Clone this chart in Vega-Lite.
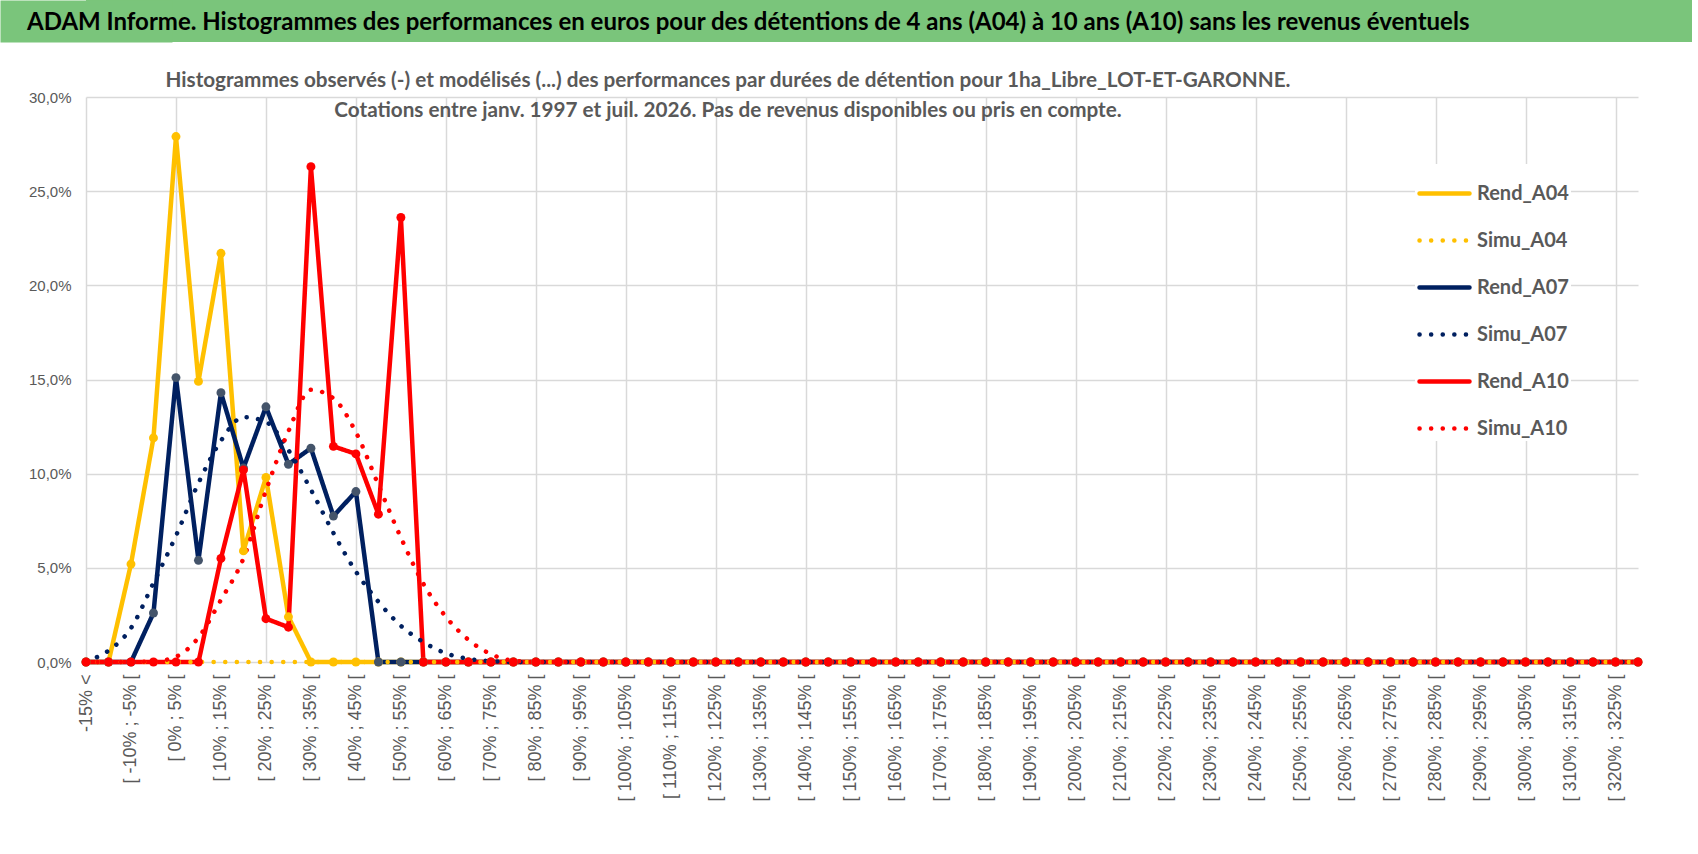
{
  "$schema": "https://vega.github.io/schema/vega-lite/v6.json",
  "padding": 0,
  "spacing": 28,
  "background": "white",
  "config": {"view": {"stroke": null}, "font": "Liberation Sans"},
  "vconcat": [
    {
      "width": 1606,
      "height": 42,
      "view": {"fill": "#7AC57B", "stroke": null},
      "data": {"values": [{"t": "ADAM Informe. Histogrammes des performances en euros pour des détentions de 4 ans (A04) à 10 ans (A10) sans les revenus éventuels"}]},
      "mark": {"type": "text", "align": "left", "baseline": "middle", "dx": -59, "dy": 2, "font": "Lato", "fontSize": 24, "fontWeight": "bold", "color": "#000000"},
      "encoding": {
        "x": {"datum": 0, "type": "quantitative", "scale": {"domain": [0, 1]}, "axis": null},
        "y": {
          "datum": 0.5, "type": "quantitative", "scale": {"domain": [0, 1]},
          "axis": {"title": null, "labels": false, "ticks": false, "grid": false, "domain": true, "domainColor": "#7AC57B", "domainWidth": 172}
        },
        "text": {"field": "t"}
      }
    },
    {
      "width": 1552,
      "height": 565,
      "title": {
        "text": ["Histogrammes observés (-) et modélisés (...) des performances par durées de détention pour 1ha_Libre_LOT-ET-GARONNE.", "Cotations entre janv. 1997 et juil. 2026. Pas de revenus disponibles ou pris en compte."],
        "anchor": "middle", "frame": "group", "dx": -134, "offset": -32,
        "font": "Lato", "fontSize": 20.7, "fontWeight": "bold", "color": "#595959", "lineHeight": 30
      },
      "data": {"values": [
        {"c": "-15% <", "Rend_A04": 0, "Rend_A07": 0, "Rend_A10": 0, "Simu_A04": 0, "Simu_A07": 0.05, "Simu_A10": 0},
        {"c": "[ -15% ; -10% [", "Rend_A04": 0, "Rend_A07": 0, "Rend_A10": 0, "Simu_A04": 0, "Simu_A07": 0.6, "Simu_A10": 0},
        {"c": "[ -10% ; -5% [", "Rend_A04": 5.2, "Rend_A07": 0, "Rend_A10": 0, "Simu_A04": 0, "Simu_A07": 1.8, "Simu_A10": 0},
        {"c": "[ -5% ; 0% [", "Rend_A04": 11.9, "Rend_A07": 2.6, "Rend_A10": 0, "Simu_A04": 0, "Simu_A07": 4.2, "Simu_A10": 0.03},
        {"c": "[ 0% ; 5% [", "Rend_A04": 27.9, "Rend_A07": 15.1, "Rend_A10": 0, "Simu_A04": 0, "Simu_A07": 6.7, "Simu_A10": 0.28},
        {"c": "[ 5% ; 10% [", "Rend_A04": 14.9, "Rend_A07": 5.4, "Rend_A10": 0, "Simu_A04": 0, "Simu_A07": 9.5, "Simu_A10": 1.3},
        {"c": "[ 10% ; 15% [", "Rend_A04": 21.7, "Rend_A07": 14.3, "Rend_A10": 5.5, "Simu_A04": 0, "Simu_A07": 11.75, "Simu_A10": 3.3},
        {"c": "[ 15% ; 20% [", "Rend_A04": 5.9, "Rend_A07": 10.3, "Rend_A10": 10.2, "Simu_A04": 0, "Simu_A07": 13.0, "Simu_A10": 5.5},
        {"c": "[ 20% ; 25% [", "Rend_A04": 9.8, "Rend_A07": 13.55, "Rend_A10": 2.3, "Simu_A04": 0, "Simu_A07": 12.75, "Simu_A10": 9.1},
        {"c": "[ 25% ; 30% [", "Rend_A04": 2.4, "Rend_A07": 10.5, "Rend_A10": 1.85, "Simu_A04": 0, "Simu_A07": 11.25, "Simu_A10": 12.25},
        {"c": "[ 30% ; 35% [", "Rend_A04": 0, "Rend_A07": 11.35, "Rend_A10": 26.3, "Simu_A04": 0, "Simu_A07": 9.15, "Simu_A10": 14.45},
        {"c": "[ 35% ; 40% [", "Rend_A04": 0, "Rend_A07": 7.75, "Rend_A10": 11.45, "Simu_A04": 0, "Simu_A07": 6.85, "Simu_A10": 14.0},
        {"c": "[ 40% ; 45% [", "Rend_A04": 0, "Rend_A07": 9.05, "Rend_A10": 11.05, "Simu_A04": 0, "Simu_A07": 4.8, "Simu_A10": 12.2},
        {"c": "[ 45% ; 50% [", "Rend_A04": 0, "Rend_A07": 0, "Rend_A10": 7.85, "Simu_A04": 0, "Simu_A07": 3.2, "Simu_A10": 9.4},
        {"c": "[ 50% ; 55% [", "Rend_A04": 0, "Rend_A07": 0, "Rend_A10": 23.6, "Simu_A04": 0, "Simu_A07": 1.92, "Simu_A10": 6.6},
        {"c": "[ 55% ; 60% [", "Rend_A04": 0, "Rend_A07": 0, "Rend_A10": 0, "Simu_A04": 0, "Simu_A07": 1.06, "Simu_A10": 4.15},
        {"c": "[ 60% ; 65% [", "Rend_A04": 0, "Rend_A07": 0, "Rend_A10": 0, "Simu_A04": 0, "Simu_A07": 0.46, "Simu_A10": 2.4},
        {"c": "[ 65% ; 70% [", "Rend_A04": 0, "Rend_A07": 0, "Rend_A10": 0, "Simu_A04": 0, "Simu_A07": 0.17, "Simu_A10": 1.18},
        {"c": "[ 70% ; 75% [", "Rend_A04": 0, "Rend_A07": 0, "Rend_A10": 0, "Simu_A04": 0, "Simu_A07": 0.04, "Simu_A10": 0.42},
        {"c": "[ 75% ; 80% [", "Rend_A04": 0, "Rend_A07": 0, "Rend_A10": 0, "Simu_A04": 0, "Simu_A07": 0, "Simu_A10": 0.07},
        {"c": "[ 80% ; 85% [", "Rend_A04": 0, "Rend_A07": 0, "Rend_A10": 0, "Simu_A04": 0, "Simu_A07": 0, "Simu_A10": 0},
        {"c": "[ 85% ; 90% [", "Rend_A04": 0, "Rend_A07": 0, "Rend_A10": 0, "Simu_A04": 0, "Simu_A07": 0, "Simu_A10": 0},
        {"c": "[ 90% ; 95% [", "Rend_A04": 0, "Rend_A07": 0, "Rend_A10": 0, "Simu_A04": 0, "Simu_A07": 0, "Simu_A10": 0},
        {"c": "[ 95% ; 100% [", "Rend_A04": 0, "Rend_A07": 0, "Rend_A10": 0, "Simu_A04": 0, "Simu_A07": 0, "Simu_A10": 0},
        {"c": "[ 100% ; 105% [", "Rend_A04": 0, "Rend_A07": 0, "Rend_A10": 0, "Simu_A04": 0, "Simu_A07": 0, "Simu_A10": 0},
        {"c": "[ 105% ; 110% [", "Rend_A04": 0, "Rend_A07": 0, "Rend_A10": 0, "Simu_A04": 0, "Simu_A07": 0, "Simu_A10": 0},
        {"c": "[ 110% ; 115% [", "Rend_A04": 0, "Rend_A07": 0, "Rend_A10": 0, "Simu_A04": 0, "Simu_A07": 0, "Simu_A10": 0},
        {"c": "[ 115% ; 120% [", "Rend_A04": 0, "Rend_A07": 0, "Rend_A10": 0, "Simu_A04": 0, "Simu_A07": 0, "Simu_A10": 0},
        {"c": "[ 120% ; 125% [", "Rend_A04": 0, "Rend_A07": 0, "Rend_A10": 0, "Simu_A04": 0, "Simu_A07": 0, "Simu_A10": 0},
        {"c": "[ 125% ; 130% [", "Rend_A04": 0, "Rend_A07": 0, "Rend_A10": 0, "Simu_A04": 0, "Simu_A07": 0, "Simu_A10": 0},
        {"c": "[ 130% ; 135% [", "Rend_A04": 0, "Rend_A07": 0, "Rend_A10": 0, "Simu_A04": 0, "Simu_A07": 0, "Simu_A10": 0},
        {"c": "[ 135% ; 140% [", "Rend_A04": 0, "Rend_A07": 0, "Rend_A10": 0, "Simu_A04": 0, "Simu_A07": 0, "Simu_A10": 0},
        {"c": "[ 140% ; 145% [", "Rend_A04": 0, "Rend_A07": 0, "Rend_A10": 0, "Simu_A04": 0, "Simu_A07": 0, "Simu_A10": 0},
        {"c": "[ 145% ; 150% [", "Rend_A04": 0, "Rend_A07": 0, "Rend_A10": 0, "Simu_A04": 0, "Simu_A07": 0, "Simu_A10": 0},
        {"c": "[ 150% ; 155% [", "Rend_A04": 0, "Rend_A07": 0, "Rend_A10": 0, "Simu_A04": 0, "Simu_A07": 0, "Simu_A10": 0},
        {"c": "[ 155% ; 160% [", "Rend_A04": 0, "Rend_A07": 0, "Rend_A10": 0, "Simu_A04": 0, "Simu_A07": 0, "Simu_A10": 0},
        {"c": "[ 160% ; 165% [", "Rend_A04": 0, "Rend_A07": 0, "Rend_A10": 0, "Simu_A04": 0, "Simu_A07": 0, "Simu_A10": 0},
        {"c": "[ 165% ; 170% [", "Rend_A04": 0, "Rend_A07": 0, "Rend_A10": 0, "Simu_A04": 0, "Simu_A07": 0, "Simu_A10": 0},
        {"c": "[ 170% ; 175% [", "Rend_A04": 0, "Rend_A07": 0, "Rend_A10": 0, "Simu_A04": 0, "Simu_A07": 0, "Simu_A10": 0},
        {"c": "[ 175% ; 180% [", "Rend_A04": 0, "Rend_A07": 0, "Rend_A10": 0, "Simu_A04": 0, "Simu_A07": 0, "Simu_A10": 0},
        {"c": "[ 180% ; 185% [", "Rend_A04": 0, "Rend_A07": 0, "Rend_A10": 0, "Simu_A04": 0, "Simu_A07": 0, "Simu_A10": 0},
        {"c": "[ 185% ; 190% [", "Rend_A04": 0, "Rend_A07": 0, "Rend_A10": 0, "Simu_A04": 0, "Simu_A07": 0, "Simu_A10": 0},
        {"c": "[ 190% ; 195% [", "Rend_A04": 0, "Rend_A07": 0, "Rend_A10": 0, "Simu_A04": 0, "Simu_A07": 0, "Simu_A10": 0},
        {"c": "[ 195% ; 200% [", "Rend_A04": 0, "Rend_A07": 0, "Rend_A10": 0, "Simu_A04": 0, "Simu_A07": 0, "Simu_A10": 0},
        {"c": "[ 200% ; 205% [", "Rend_A04": 0, "Rend_A07": 0, "Rend_A10": 0, "Simu_A04": 0, "Simu_A07": 0, "Simu_A10": 0},
        {"c": "[ 205% ; 210% [", "Rend_A04": 0, "Rend_A07": 0, "Rend_A10": 0, "Simu_A04": 0, "Simu_A07": 0, "Simu_A10": 0},
        {"c": "[ 210% ; 215% [", "Rend_A04": 0, "Rend_A07": 0, "Rend_A10": 0, "Simu_A04": 0, "Simu_A07": 0, "Simu_A10": 0},
        {"c": "[ 215% ; 220% [", "Rend_A04": 0, "Rend_A07": 0, "Rend_A10": 0, "Simu_A04": 0, "Simu_A07": 0, "Simu_A10": 0},
        {"c": "[ 220% ; 225% [", "Rend_A04": 0, "Rend_A07": 0, "Rend_A10": 0, "Simu_A04": 0, "Simu_A07": 0, "Simu_A10": 0},
        {"c": "[ 225% ; 230% [", "Rend_A04": 0, "Rend_A07": 0, "Rend_A10": 0, "Simu_A04": 0, "Simu_A07": 0, "Simu_A10": 0},
        {"c": "[ 230% ; 235% [", "Rend_A04": 0, "Rend_A07": 0, "Rend_A10": 0, "Simu_A04": 0, "Simu_A07": 0, "Simu_A10": 0},
        {"c": "[ 235% ; 240% [", "Rend_A04": 0, "Rend_A07": 0, "Rend_A10": 0, "Simu_A04": 0, "Simu_A07": 0, "Simu_A10": 0},
        {"c": "[ 240% ; 245% [", "Rend_A04": 0, "Rend_A07": 0, "Rend_A10": 0, "Simu_A04": 0, "Simu_A07": 0, "Simu_A10": 0},
        {"c": "[ 245% ; 250% [", "Rend_A04": 0, "Rend_A07": 0, "Rend_A10": 0, "Simu_A04": 0, "Simu_A07": 0, "Simu_A10": 0},
        {"c": "[ 250% ; 255% [", "Rend_A04": 0, "Rend_A07": 0, "Rend_A10": 0, "Simu_A04": 0, "Simu_A07": 0, "Simu_A10": 0},
        {"c": "[ 255% ; 260% [", "Rend_A04": 0, "Rend_A07": 0, "Rend_A10": 0, "Simu_A04": 0, "Simu_A07": 0, "Simu_A10": 0},
        {"c": "[ 260% ; 265% [", "Rend_A04": 0, "Rend_A07": 0, "Rend_A10": 0, "Simu_A04": 0, "Simu_A07": 0, "Simu_A10": 0},
        {"c": "[ 265% ; 270% [", "Rend_A04": 0, "Rend_A07": 0, "Rend_A10": 0, "Simu_A04": 0, "Simu_A07": 0, "Simu_A10": 0},
        {"c": "[ 270% ; 275% [", "Rend_A04": 0, "Rend_A07": 0, "Rend_A10": 0, "Simu_A04": 0, "Simu_A07": 0, "Simu_A10": 0},
        {"c": "[ 275% ; 280% [", "Rend_A04": 0, "Rend_A07": 0, "Rend_A10": 0, "Simu_A04": 0, "Simu_A07": 0, "Simu_A10": 0},
        {"c": "[ 280% ; 285% [", "Rend_A04": 0, "Rend_A07": 0, "Rend_A10": 0, "Simu_A04": 0, "Simu_A07": 0, "Simu_A10": 0},
        {"c": "[ 285% ; 290% [", "Rend_A04": 0, "Rend_A07": 0, "Rend_A10": 0, "Simu_A04": 0, "Simu_A07": 0, "Simu_A10": 0},
        {"c": "[ 290% ; 295% [", "Rend_A04": 0, "Rend_A07": 0, "Rend_A10": 0, "Simu_A04": 0, "Simu_A07": 0, "Simu_A10": 0},
        {"c": "[ 295% ; 300% [", "Rend_A04": 0, "Rend_A07": 0, "Rend_A10": 0, "Simu_A04": 0, "Simu_A07": 0, "Simu_A10": 0},
        {"c": "[ 300% ; 305% [", "Rend_A04": 0, "Rend_A07": 0, "Rend_A10": 0, "Simu_A04": 0, "Simu_A07": 0, "Simu_A10": 0},
        {"c": "[ 305% ; 310% [", "Rend_A04": 0, "Rend_A07": 0, "Rend_A10": 0, "Simu_A04": 0, "Simu_A07": 0, "Simu_A10": 0},
        {"c": "[ 310% ; 315% [", "Rend_A04": 0, "Rend_A07": 0, "Rend_A10": 0, "Simu_A04": 0, "Simu_A07": 0, "Simu_A10": 0},
        {"c": "[ 315% ; 320% [", "Rend_A04": 0, "Rend_A07": 0, "Rend_A10": 0, "Simu_A04": 0, "Simu_A07": 0, "Simu_A10": 0},
        {"c": "[ 320% ; 325% [", "Rend_A04": 0, "Rend_A07": 0, "Rend_A10": 0, "Simu_A04": 0, "Simu_A07": 0, "Simu_A10": 0},
        {"c": "[ 325% ; 330% [", "Rend_A04": 0, "Rend_A07": 0, "Rend_A10": 0, "Simu_A04": 0, "Simu_A07": 0, "Simu_A10": 0}
      ]},
      "transform": [
        {"fold": ["Rend_A04", "Rend_A07", "Rend_A10", "Simu_A04", "Simu_A07", "Simu_A10"], "as": ["s", "v"]}
      ],
      "encoding": {
        "y": {
          "field": "v", "type": "quantitative",
          "scale": {"domain": [0, 30], "nice": false, "zero": true},
          "axis": {
            "title": null, "values": [0, 5, 10, 15, 20, 25, 30],
            "labelExpr": "replace(format(datum.value, '.1f'), '.', ',') + '%'",
            "grid": true, "gridColor": "#D9D9D9", "gridWidth": 1.5,
            "domain": false, "ticks": false, "labelPadding": 15,
            "labelFont": "Liberation Sans", "labelFontSize": 15, "labelColor": "#595959",
            "minExtent": 86, "maxExtent": 86
          }
        }
      },
      "layer": [
        {
          "transform": [{"filter": "indexof(datum.s, 'Rend') == 0"}],
          "mark": {"type": "line", "strokeWidth": 4.5, "strokeJoin": "round"},
          "encoding": {
            "x": {
              "field": "c", "type": "ordinal", "sort": null,
              "scale": {"type": "point", "padding": 0},
              "axis": {
                "title": null,
                "values": ["-15% <", "[ -10% ; -5% [", "[ 0% ; 5% [", "[ 10% ; 15% [", "[ 20% ; 25% [", "[ 30% ; 35% [", "[ 40% ; 45% [", "[ 50% ; 55% [", "[ 60% ; 65% [", "[ 70% ; 75% [", "[ 80% ; 85% [", "[ 90% ; 95% [", "[ 100% ; 105% [", "[ 110% ; 115% [", "[ 120% ; 125% [", "[ 130% ; 135% [", "[ 140% ; 145% [", "[ 150% ; 155% [", "[ 160% ; 165% [", "[ 170% ; 175% [", "[ 180% ; 185% [", "[ 190% ; 195% [", "[ 200% ; 205% [", "[ 210% ; 215% [", "[ 220% ; 225% [", "[ 230% ; 235% [", "[ 240% ; 245% [", "[ 250% ; 255% [", "[ 260% ; 265% [", "[ 270% ; 275% [", "[ 280% ; 285% [", "[ 290% ; 295% [", "[ 300% ; 305% [", "[ 310% ; 315% [", "[ 320% ; 325% ["],
                "labelAngle": -90, "labelFont": "Liberation Sans", "labelFontSize": 18, "labelColor": "#595959",
                "labelPadding": 12, "labelOverlap": false, "ticks": false, "domain": false, "grid": false
              }
            },
            "color": {
              "field": "s", "type": "nominal",
              "scale": {
                "domain": ["Rend_A04", "Simu_A04", "Rend_A07", "Simu_A07", "Rend_A10", "Simu_A10"],
                "range": ["#FFC000", "#FFC000", "#002060", "#002060", "#FF0000", "#FF0000"]
              },
              "legend": {
                "title": null, "orient": "none", "legendX": 1329, "legendY": 164,
                "symbolType": "stroke", "symbolSize": 2500, "symbolStrokeWidth": 4.5,
                "labelFont": "Lato", "labelFontSize": 20, "labelFontWeight": "bold",
                "labelColor": "#595959", "labelOffset": 5, "rowPadding": 9, "padding": 2,
                "fillColor": "white",
                "encoding": {"symbols": {"strokeCap": {"value": "round"}}}
              }
            },
            "strokeDash": {
              "field": "s", "type": "nominal",
              "scale": {
                "domain": ["Rend_A04", "Simu_A04", "Rend_A07", "Simu_A07", "Rend_A10", "Simu_A10"],
                "range": [[1, 0], [0.1, 11.5], [1, 0], [0.1, 11.5], [1, 0], [0.1, 11.5]]
              },
              "legend": {
                "title": null, "orient": "none", "legendX": 1329, "legendY": 164,
                "symbolType": "stroke", "symbolSize": 2500, "symbolStrokeWidth": 4.5,
                "labelFont": "Lato", "labelFontSize": 20, "labelFontWeight": "bold",
                "labelColor": "#595959", "labelOffset": 5, "rowPadding": 9, "padding": 2,
                "fillColor": "white",
                "encoding": {"symbols": {"strokeCap": {"value": "round"}}}
              }
            }
          }
        },
        {
          "transform": [{"filter": "indexof(datum.s, 'Simu') == 0"}],
          "mark": {"type": "line", "strokeWidth": 4.5, "strokeCap": "round", "interpolate": "monotone"},
          "encoding": {
            "x": {"field": "c", "type": "ordinal", "sort": null, "scale": {"type": "point", "padding": 0}, "axis": null},
            "color": {"field": "s", "type": "nominal"},
            "strokeDash": {"field": "s", "type": "nominal"}
          }
        },
        {
          "transform": [{"filter": "indexof(datum.s, 'Rend') == 0"}],
          "mark": {"type": "point", "filled": true, "opacity": 1, "size": 80},
          "encoding": {
            "x": {
              "field": "c", "type": "ordinal", "sort": null, "scale": {"type": "point", "padding": 0},
              "axis": {
                "orient": "top", "title": null, "labels": false, "ticks": false, "domain": false,
                "grid": true, "gridColor": "#D9D9D9", "gridWidth": 1.5, "minExtent": 0, "maxExtent": 0,
                "values": ["-15% <", "[ 0% ; 5% [", "[ 20% ; 25% [", "[ 40% ; 45% [", "[ 60% ; 65% [", "[ 80% ; 85% [", "[ 100% ; 105% [", "[ 120% ; 125% [", "[ 140% ; 145% [", "[ 160% ; 165% [", "[ 180% ; 185% [", "[ 200% ; 205% [", "[ 220% ; 225% [", "[ 240% ; 245% [", "[ 260% ; 265% [", "[ 280% ; 285% [", "[ 300% ; 305% [", "[ 320% ; 325% ["]
              }
            },
            "fill": {
              "field": "s", "type": "nominal",
              "scale": {"domain": ["Rend_A04", "Rend_A07", "Rend_A10"], "range": ["#FFC000", "#44546A", "#FF0000"]},
              "legend": null
            }
          }
        }
      ],
      "resolve": {"axis": {"x": "independent"}}
    }
  ]
}
